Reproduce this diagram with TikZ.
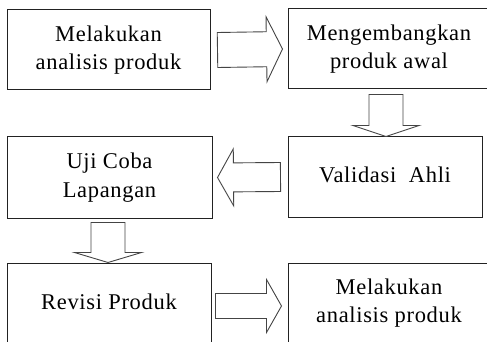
\documentclass[tikz,border=0pt]{standalone}
\usepackage{fontspec}
\setmainfont{Liberation Serif}
\usepackage{tikz}
\usetikzlibrary{positioning, calc}
\definecolor{bInk}{HTML}{222222}
\definecolor{aInk}{HTML}{444444}
% block arrow: tail, tip, shaft half-width, head half-width, head length
\newcommand{\blockarrow}[5]{%
  \coordinate (ba-t) at (#1);
  \coordinate (ba-p) at (#2);
  \coordinate (ba-h) at ($(ba-p)!#5!(ba-t)$);
  \draw[barrow] ($(ba-t)!#3!90:(ba-p)$) -- ($(ba-h)!#3!-90:(ba-t)$)
    -- ($(ba-h)!#4!-90:(ba-t)$) -- (ba-p) -- ($(ba-h)!#4!90:(ba-t)$)
    -- ($(ba-h)!#3!90:(ba-t)$) -- ($(ba-t)!#3!-90:(ba-p)$) -- cycle;}
\begin{document}
\begin{tikzpicture}[x=1pt, y=-1pt,
        pbox/.style={draw=bInk, line width=1pt, minimum width=203pt, minimum height=80pt,
          align=center, inner sep=0pt, font=\fontsize{22.5}{28.5}\selectfont\addfontfeatures{LetterSpace=3}},
        barrow/.style={draw=aInk, line width=0.9pt, line join=miter, fill=white}]
      \useasboundingbox (0,0) rectangle (487,342);
      \clip (0,0) rectangle (487,342);
      \node[pbox] (a) at (108.5,50) {Melakukan\\analisis produk};
      \node[pbox, minimum width=202pt] (b) at (389,49) {Mengembangkan\\produk awal};
      \node[pbox, minimum width=194pt] (c) at (385,177) {\raisebox{4pt}{Validasi~ Ahli}};
      \node[pbox, minimum width=205pt, minimum height=81pt] (d) at (109.5,177.5) {Uji Coba\\Lapangan};
      \node[pbox, minimum width=204pt] (e) at (109,303) {\raisebox{3pt}{Revisi Produk}};
      \node[pbox, minimum width=202pt] (f) at (389,303) {Melakukan\\analisis produk};
      \blockarrow{$(a.east)+(7,0)$}{$(b.west)+(-5,0)$}{17.5pt}{32.5pt}{16pt}
      \blockarrow{$(b.south)+(-3,5)$}{$(c.north)+(1,0)$}{17pt}{33pt}{11pt}
      \blockarrow{$(c.west)+(-7,0)$}{$(d.east)+(5,0)$}{14.5pt}{28.5pt}{16pt}
      \blockarrow{$(d.south)+(-1.5,4)$}{$(e.north)+(-1,0)$}{17pt}{33.5pt}{10pt}
      \blockarrow{$(e.east)+(4,3)$}{$(f.west)+(-6,3)$}{12.5pt}{26.5pt}{15pt}
    \end{tikzpicture}
\end{document}
